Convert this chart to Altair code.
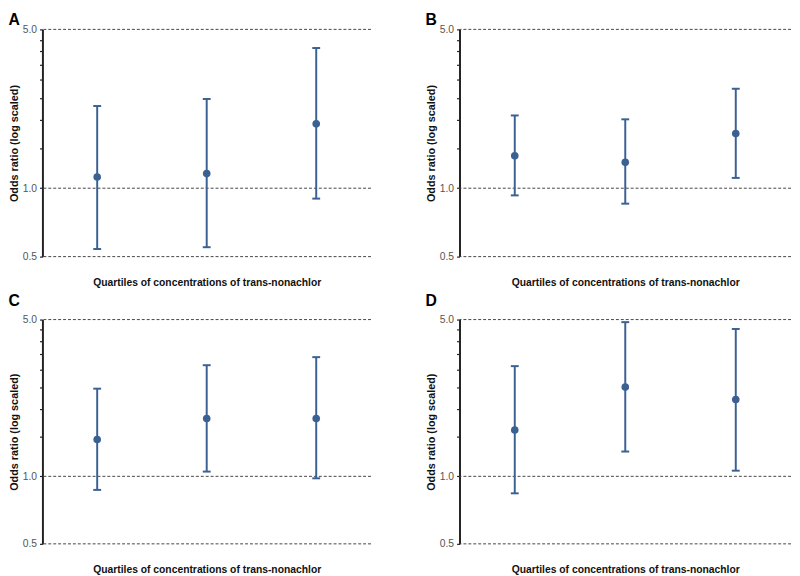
import altair as alt
import pandas as pd

# ---- data ----
quartiles = [1, 2, 3]
panels = ["A", "B", "C", "D"]
or_A = [1.12, 1.16, 1.92]
lo_A = [0.54, 0.55, 0.90]
hi_A = [2.30, 2.47, 4.14]
or_B = [1.39, 1.30, 1.74]
lo_B = [0.93, 0.855, 1.11]
hi_B = [2.09, 2.01, 2.74]
or_C = [1.46, 1.81, 1.81]
lo_C = [0.87, 1.05, 0.98]
hi_C = [2.46, 3.13, 3.40]
or_D = [1.61, 2.50, 2.20]
lo_D = [0.84, 1.29, 1.06]
hi_D = [3.10, 4.87, 4.54]
grid_values = [0.5, 1.0, 5.0]
tick_values = [0.5, 1.0, 1.5, 2.0, 2.5, 3.0, 3.5, 4.0, 4.5, 5.0]
x_title = "Quartiles of concentrations of trans-nonachlor"
y_title = "Odds ratio (log scaled)"

series = {
    "A": (or_A, lo_A, hi_A),
    "B": (or_B, lo_B, hi_B),
    "C": (or_C, lo_C, hi_C),
    "D": (or_D, lo_D, hi_D),
}

COLOR = "#3b6193"
FONT = "Liberation Sans"

grid_df = pd.DataFrame({"g": grid_values})


def panel(letter, width, height, title_offset, x_pad):
    o, lo, hi = series[letter]
    df = pd.DataFrame({"q": quartiles, "or": o, "lo": lo, "hi": hi})
    yscale = alt.Scale(type="log", domain=[0.5, 5.0], nice=False)
    yaxis = alt.Axis(
        title=y_title,
        values=tick_values,
        labelExpr="(datum.value == 0.5 || datum.value == 1 || datum.value == 5) ? format(datum.value, '.1f') : ''",
        grid=False,
        domainColor="#222222",
        domainWidth=2,
        tickColor="#222222",
        tickSize=3,
        tickWidth=1.2,
        labelPadding=3,
        labelColor="#555555",
        labelFontSize=10.5,
        labelFont=FONT,
        titleFont=FONT,
        titleFontSize=11,
        titleFontWeight="bold",
        titleColor="#111111",
        titlePadding=3,
    )
    xscale = alt.Scale(domain=[0.5, 3.5], nice=False, zero=False)
    xaxis = alt.Axis(
        title=x_title,
        labels=False,
        ticks=False,
        domain=False,
        grid=False,
        titleFont=FONT,
        titleFontSize=10.5,
        titleFontWeight="bold",
        titleColor="#111111",
        titlePadding=x_pad,
    )
    base = alt.Chart(df)
    grid = alt.Chart(grid_df).mark_rule(
        color="#444444", strokeWidth=1, strokeDash=[3, 2]
    ).encode(y=alt.Y("g:Q", scale=yscale, axis=yaxis))
    bars = base.mark_rule(color=COLOR, strokeWidth=2).encode(
        x=alt.X("q:Q", scale=xscale, axis=xaxis),
        y=alt.Y("lo:Q", scale=yscale, axis=yaxis),
        y2="hi:Q",
    )
    cap_lo = base.mark_tick(color=COLOR, orient="horizontal", size=8, thickness=2, opacity=1).encode(
        x=alt.X("q:Q", scale=xscale, axis=xaxis),
        y=alt.Y("lo:Q", scale=yscale, axis=yaxis),
    )
    cap_hi = base.mark_tick(color=COLOR, orient="horizontal", size=8, thickness=2, opacity=1).encode(
        x=alt.X("q:Q", scale=xscale, axis=xaxis),
        y=alt.Y("hi:Q", scale=yscale, axis=yaxis),
    )
    pts = base.mark_circle(color=COLOR, size=60, opacity=1).encode(
        x=alt.X("q:Q", scale=xscale, axis=xaxis),
        y=alt.Y("or:Q", scale=yscale, axis=yaxis),
    )
    return alt.layer(grid, bars, cap_lo, cap_hi, pts).properties(
        width=width,
        height=height,
        title=alt.TitleParams(
            letter,
            anchor="start",
            font=FONT,
            fontSize=16,
            fontWeight="bold",
            color="#000000",
            offset=title_offset,
        ),
    )


row1 = alt.hconcat(panel("A", 334, 231, -4, 21), panel("B", 337, 231, -4, 21), spacing=54)
row2 = alt.hconcat(panel("C", 334, 228, 6, 21), panel("D", 337, 228, 6, 21), spacing=54)
chart = alt.vconcat(row1, row2, spacing=5).properties(padding=0).configure_view(stroke=None)

chart.save("out.html", embed_options={"renderer": "svg", "actions": False})
